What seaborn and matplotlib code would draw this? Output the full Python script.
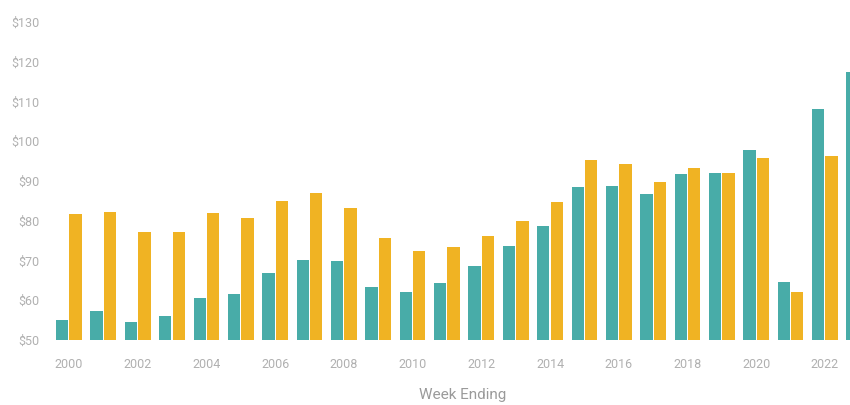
import pandas as pd
import seaborn as sns
import matplotlib.pyplot as plt

# values
years = list(range(2000, 2024))
teal_values = [55.0, 57.3, 54.5, 56.0, 60.5, 61.6, 66.9, 70.1, 69.8, 63.4,
               62.2, 64.3, 68.6, 73.6, 78.7, 88.5, 88.8, 86.7, 91.8, 92.0,
               97.8, 64.6, 108.1, 117.4]
gold_values = [81.6, 82.3, 77.2, 77.2, 81.9, 80.8, 85.0, 87.0, 83.3, 75.6,
               72.4, 73.4, 76.1, 80.0, 84.6, 95.2, 94.4, 89.7, 93.2, 92.0,
               95.7, 62.1, 96.2, 100.0]
series_names = ["Series A", "Series B"]
y_ticks = [50, 60, 70, 80, 90, 100, 110, 120, 130]
x_tick_years = years[::2]

df = pd.DataFrame({
    "year": years * 2,
    "value": teal_values + gold_values,
    "series": [series_names[0]] * len(years) + [series_names[1]] * len(years),
})

sns.set_style("white")
plt.rcParams["font.family"] = ["Roboto", "DejaVu Sans"]

fig = plt.figure(figsize=(8.5, 4.05), dpi=100)
ax = fig.add_axes([45 / 850, 65 / 405, 805 / 850, 318 / 405])

palette = {"Series A": "#48ACA8", "Series B": "#F0B323"}
# bars run from zero; the y axis starts at $50 and clips them
sns.barplot(data=df, x="year", y="value", hue="series", palette=palette,
            saturation=1, width=0.78, gap=0.08, linewidth=0, legend=False, ax=ax)

ax.set_ylim(50, 130)
ax.set_xlim(-0.696, 22.73)
ax.set_yticks(y_ticks)
ax.set_yticklabels([f"${v}" for v in y_ticks])
ax.set_xticks([years.index(y) for y in x_tick_years])
ax.set_xticklabels([str(y) for y in x_tick_years])

ax.tick_params(axis="both", length=0, labelsize=9, labelcolor="#b0b0b0")
ax.tick_params(axis="x", pad=13)
ax.tick_params(axis="y", pad=4)
ax.set_ylabel("")
ax.set_xlabel("Week Ending", fontsize=11, color="#9a9a9a")
ax.xaxis.set_label_coords(0.519, -0.15)
sns.despine(ax=ax, left=True, bottom=True)

fig.savefig("out.png", dpi=100)
